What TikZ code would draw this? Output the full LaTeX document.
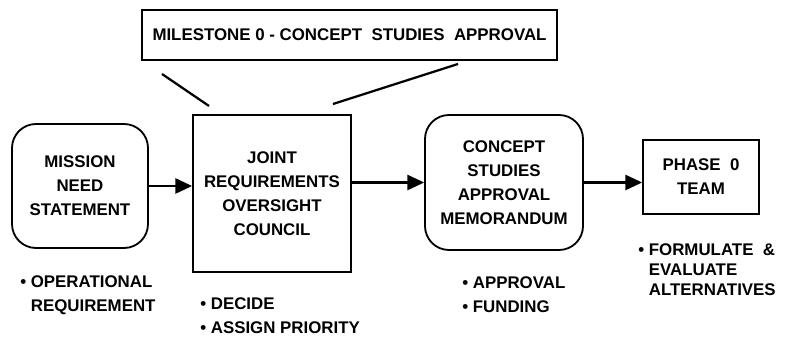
\documentclass[tikz,border=0pt]{standalone}
\usepackage{fontspec}
\setmainfont{Liberation Sans}
\usetikzlibrary{arrows.meta,positioning}

\tikzset{
  stagebox/.style={draw, line width=1.3pt, align=center, inner sep=0pt,
    font=\bfseries\fontsize{12}{17}\selectfont},
  roundbox/.style={stagebox, rounded corners=0.6cm},
  notes/.style={align=left, inner sep=0pt, anchor=north west,
    font=\bfseries\fontsize{12}{17}\selectfont},
  flow/.style={line width=1.6pt, -{Triangle[length=0.42cm,width=0.38cm]}}
}
\newcommand{\hang}{\phantom{\textbullet}\ }

\begin{document}
\begin{tikzpicture}
      \useasboundingbox (0,0) rectangle (19.725,8.525);

      % stages
      \node[roundbox, minimum width=3.4cm, minimum height=3.1cm] (mission) at (2.0,3.875) {MISSION\\NEED\\STATEMENT};
      \node[stagebox, minimum width=3.95cm, minimum height=3.925cm] (jroc) at (6.8,3.6875) {JOINT\\REQUIREMENTS\\OVERSIGHT\\COUNCIL};
      \node[roundbox, minimum width=3.95cm, minimum height=3.375cm] (csam) at (12.6,3.9625) {CONCEPT\\STUDIES\\APPROVAL\\MEMORANDUM};
      \node[stagebox, minimum width=2.9cm, minimum height=1.85cm] (phase) at (17.525,4.1) {PHASE\ \ 0\\TEAM};

      % milestone callout
      \node[stagebox, minimum width=10.375cm, minimum height=1.25cm] (milestone) at (8.7375,7.65) {MILESTONE 0 - CONCEPT\ \ STUDIES\ \ APPROVAL};
      \coordinate (mlA) at (4.05,6.675);
      \coordinate (mlB) at (5.225,5.875);
      \coordinate (mrA) at (8.325,5.925);
      \coordinate (mrB) at (11.45,6.925);
      \draw[line width=1.6pt] (mlA) -- (mlB);
      \draw[line width=1.6pt] (mrA) -- (mrB);

      % flow
      \draw[flow] (mission.east) -- (mission.east -| jroc.west);
      \draw[flow] (csam.west -| jroc.east) -- (csam.west);
      \draw[flow] (csam.east) -- (csam.east -| phase.west);

      % notes
      \node[notes] (opnote) at (0.5,1.64) {\textbullet\ OPERATIONAL\\\hang REQUIREMENT};
      \node[notes] (jrocnote) at (5.0,1.09) {\textbullet\ DECIDE\\\textbullet\ ASSIGN PRIORITY};
      \node[notes] (csamnote) at (11.55,1.61) {\textbullet\ APPROVAL\\\textbullet\ FUNDING};
      \node[notes, font=\bfseries\fontsize{12}{14.2}\selectfont] (phasenote) at (15.95,2.44) {\textbullet\ FORMULATE\ \ \&\\\hang EVALUATE\\\hang ALTERNATIVES};
\end{tikzpicture}
\end{document}
